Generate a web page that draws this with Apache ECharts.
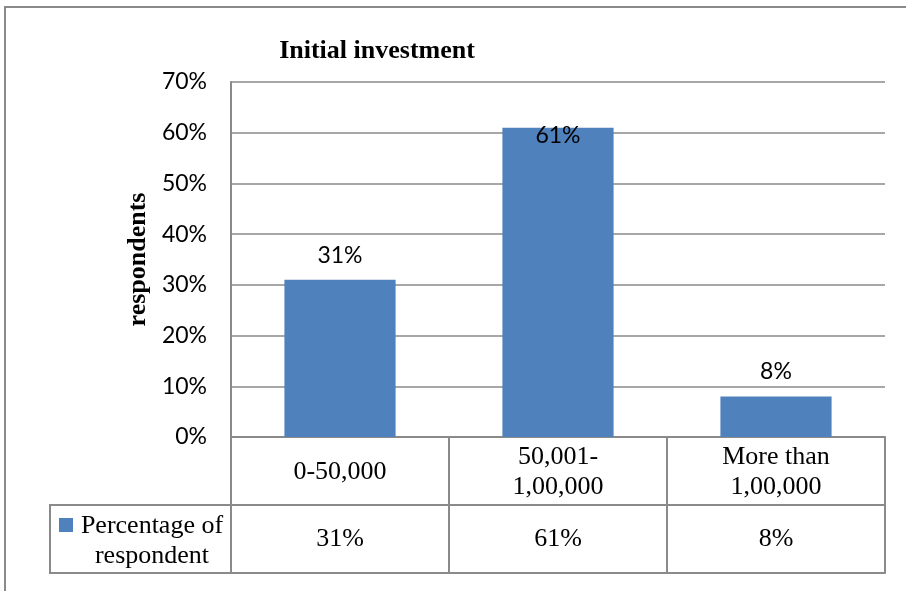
<!DOCTYPE html>
<html>
<head>
<meta charset="utf-8">
<title>Initial investment</title>
<script src="https://cdn.jsdelivr.net/npm/echarts@6/dist/echarts.min.js"></script>
<style>
  html, body { margin: 0; padding: 0; background: #ffffff; }
  #chart { width: 906px; height: 591px; }
</style>
</head>
<body>
<div id="chart"></div>
<script>
// Chart data
const chartTitle = 'Initial investment';
const yAxisTitle = 'respondents';
const categories = ['0-50,000', '50,001-\n1,00,000', 'More than\n1,00,000'];
const seriesName = 'Percentage of respondent';
const legendLines = ['Percentage of', 'respondent'];
const percentValues = [31, 61, 8];
const yMin = 0;
const yMax = 70;
const yStep = 10;

// Styling
const BAR_COLOR = '#4f81bd';
const LINE_COLOR = '#8a8a8a';
const SERIF = '"Liberation Serif", "Times New Roman", serif';
const SANS = 'Lato, Carlito, "Liberation Sans", sans-serif';

// Layout of plot area and the data table below it
const GRID = { left: 231, right: 21, top: 82, bottom: 154 };
const ROW_H = 68;
const LEGEND_LEFT = 50;

const chart = echarts.init(document.getElementById('chart'), null, { renderer: 'canvas' });

const tableLine = { color: LINE_COLOR, width: 2 };
const tableText = { color: '#000', fontFamily: SERIF, fontSize: 26, lineHeight: 30 };

// Labels with no room above the bar inside the plot are tucked into the bar top
const barData = percentValues.map(v => {
  const item = { value: v };
  if (v + 10 > yMax) {
    item.label = { position: 'insideTop', distance: -4 };
  }
  return item;
});

const h = 591;
const tableTop = h - GRID.bottom;

const option = {
  animation: false,
  backgroundColor: '#ffffff',
  title: {
    text: chartTitle,
    left: 372,
    top: 33,
    textAlign: 'center',
    textStyle: { fontFamily: SERIF, fontWeight: 'bold', fontSize: 26, color: '#000' }
  },
  grid: GRID,
  xAxis: [
    {
      type: 'category',
      data: categories,
      boundaryGap: true,
      axisLine: { show: true, lineStyle: tableLine },
      axisTick: { show: true, length: ROW_H, interval: 0, alignWithLabel: false, lineStyle: tableLine },
      axisLabel: Object.assign({ interval: 0, margin: 35, verticalAlign: 'middle', align: 'center' }, tableText),
      splitLine: { show: false }
    },
    {
      type: 'category',
      data: percentValues.map(v => v + '%'),
      position: 'bottom',
      offset: ROW_H,
      boundaryGap: true,
      axisLine: { show: true, lineStyle: tableLine },
      axisTick: { show: true, length: ROW_H, interval: 0, alignWithLabel: false, lineStyle: tableLine },
      axisLabel: Object.assign({ interval: 0, margin: 34, verticalAlign: 'middle', align: 'center' }, tableText),
      splitLine: { show: false }
    },
    {
      type: 'category',
      data: categories,
      position: 'bottom',
      offset: ROW_H * 2,
      axisLine: { show: true, lineStyle: tableLine },
      axisTick: { show: false },
      axisLabel: { show: false },
      splitLine: { show: false }
    }
  ],
  yAxis: {
    type: 'value',
    min: yMin,
    max: yMax,
    interval: yStep,
    name: yAxisTitle,
    nameLocation: 'middle',
    nameRotate: 90,
    nameGap: 80,
    nameTextStyle: { fontFamily: SERIF, fontWeight: 'bold', fontSize: 26, color: '#000' },
    axisLine: { show: true, lineStyle: { color: LINE_COLOR, width: 2 } },
    axisTick: { show: false },
    axisLabel: {
      margin: 24,
      formatter: '{value}%',
      fontFamily: SANS,
      fontSize: 23,
      color: '#000'
    },
    splitLine: { show: true, lineStyle: { color: LINE_COLOR, width: 1.5 } }
  },
  series: [
    {
      name: seriesName,
      type: 'bar',
      xAxisIndex: 0,
      data: barData,
      barWidth: '51%',
      itemStyle: { color: BAR_COLOR },
      label: {
        show: true,
        position: 'top',
        distance: 13,
        formatter: '{c}%',
        fontFamily: SANS,
        fontSize: 23,
        color: '#000'
      }
    }
  ],
  graphic: [
    // outer chart frame
    {
      type: 'rect',
      silent: true,
      shape: { x: 5, y: 7, width: 1200, height: 1200 },
      style: { fill: 'none', stroke: LINE_COLOR, lineWidth: 2 }
    },
    // legend cell of the data table
    {
      type: 'polyline',
      silent: true,
      shape: {
        points: [
          [GRID.left, tableTop + ROW_H],
          [LEGEND_LEFT, tableTop + ROW_H],
          [LEGEND_LEFT, tableTop + ROW_H * 2],
          [GRID.left, tableTop + ROW_H * 2]
        ]
      },
      style: { fill: 'none', stroke: LINE_COLOR, lineWidth: 2 }
    },
    {
      type: 'rect',
      silent: true,
      shape: { x: 59, y: 518, width: 14, height: 14 },
      style: { fill: BAR_COLOR }
    },
    {
      type: 'text',
      silent: true,
      x: 152,
      y: tableTop + ROW_H * 1.5 + 2,
      style: {
        text: legendLines.join('\n'),
        fill: '#000',
        font: '26px ' + SERIF,
        lineHeight: 30,
        align: 'center',
        verticalAlign: 'middle'
      }
    }
  ]
};

chart.setOption(option);
</script>
</body>
</html>
